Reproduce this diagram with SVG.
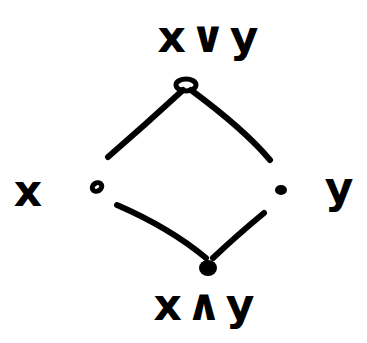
<svg xmlns="http://www.w3.org/2000/svg" width="367" height="343" viewBox="0 0 367 343">
<style>
.e{fill:none;stroke:#000;stroke-width:6;stroke-linecap:round;stroke-linejoin:round}
.n{fill:none;stroke:#000;stroke-width:5}
.t{font-family:"DejaVu Sans",sans-serif;font-weight:bold;fill:#000;text-anchor:middle;font-size:44px;letter-spacing:4px}
</style>
<rect width="367" height="343" fill="#fff"/>
<g id="edges">
<path class="e" d="M183 90 Q145 125 108 157"/>
<path class="e" d="M191 90 Q245 130 270 160"/>
<path class="e" d="M117 205 Q170 228 206 258"/>
<path class="e" d="M264 213 Q235 237 213 258"/>
</g>
<g id="top"><ellipse class="n" cx="186" cy="85" rx="10" ry="6"/><text class="t" x="210" y="52">x∨y</text></g>
<g id="left"><ellipse class="n" cx="97" cy="187" rx="5" ry="4" transform="rotate(-30 97 187)"/><text class="t" x="30" y="206">x</text></g>
<g id="right"><ellipse cx="281" cy="190" rx="6" ry="5" fill="#000"/><text class="t" x="341" y="203">y</text></g>
<g id="bottom"><ellipse cx="208" cy="268" rx="9" ry="8" fill="#000"/><text class="t" x="206" y="320">x∧y</text></g>
</svg>
